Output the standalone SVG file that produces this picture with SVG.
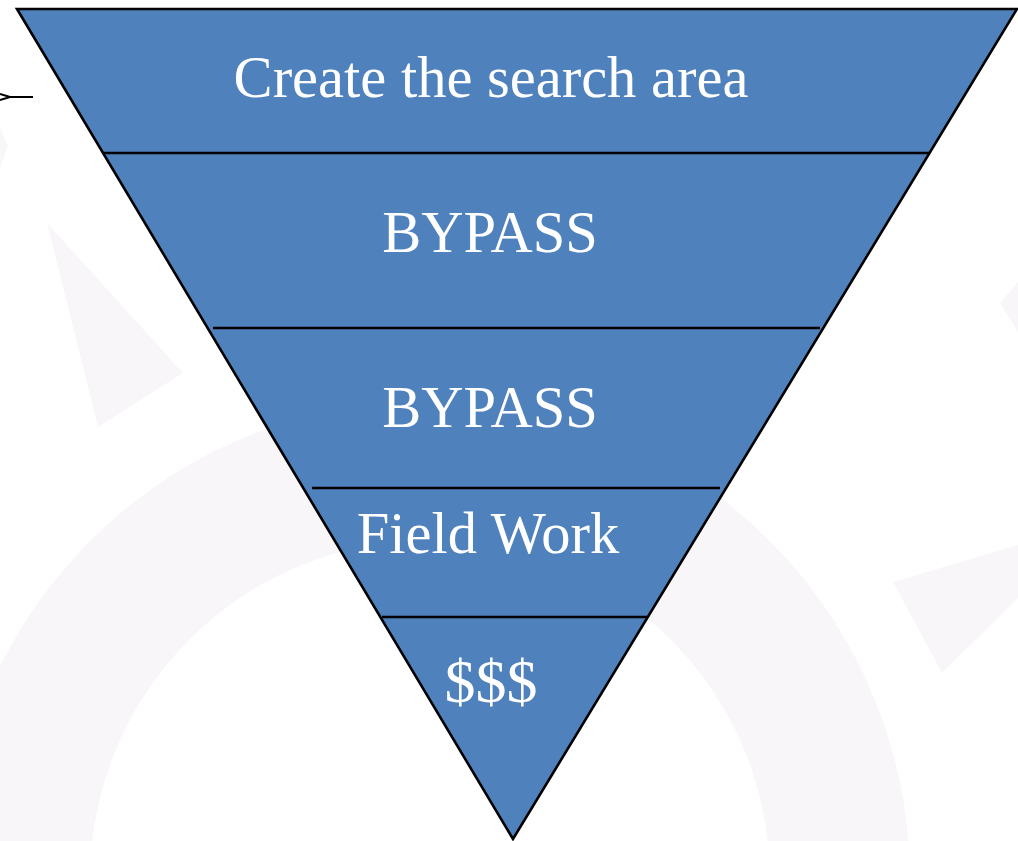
<svg xmlns="http://www.w3.org/2000/svg" width="1018" height="841" viewBox="0 0 1018 841">
<style>
.wm{fill:#f9f6fa;stroke:none}
.ring{fill:none;stroke:#f9f6fa;stroke-width:140}
.funnel{fill:#4f81bd;stroke:#000;stroke-width:2.6;stroke-linejoin:miter}
.div{stroke:#000;stroke-width:2.6}
.lbl{font-family:"Liberation Serif","Times New Roman",serif;font-size:58.5px;fill:#fff;text-anchor:middle}
.conn{fill:none;stroke:#000;stroke-width:2}
</style>
<rect width="1018" height="841" fill="#fff"/>
<g id="watermark">
<circle class="ring" cx="430" cy="880" r="410"/>
<polygon class="wm" points="47,223 183,373 98,427"/>
<polygon class="wm" points="893,582 1018,545 1018,598 942,673"/>
<polygon class="wm" points="1000,303 1018,282 1018,332"/>
<polygon class="wm" points="0,128 8,146 0,168"/>
</g>
<g id="funnel">
<polygon class="funnel" points="17,9 1017,9 513,839"/>
</g>
<g id="dividers">
<line class="div" x1="103" y1="153" x2="930" y2="153"/>
<line class="div" x1="213" y1="328" x2="820" y2="328"/>
<line class="div" x1="312" y1="488" x2="720" y2="488"/>
<line class="div" x1="382" y1="617" x2="648" y2="617"/>
</g>
<g id="layer1"><text class="lbl" x="491" y="97">Create the search area</text></g>
<g id="layer2"><text class="lbl" x="490" y="252">BYPASS</text></g>
<g id="layer3"><text class="lbl" x="490" y="427">BYPASS</text></g>
<g id="layer4"><text class="lbl" x="488" y="553">Field Work</text></g>
<g id="layer5"><text class="lbl" x="491" y="702" style="font-size:62px">$$$</text></g>
<g id="connectors">
<path class="conn" d="M0,94 L10,97 L0,100 M8,97 L33,97"/>
</g>
</svg>
